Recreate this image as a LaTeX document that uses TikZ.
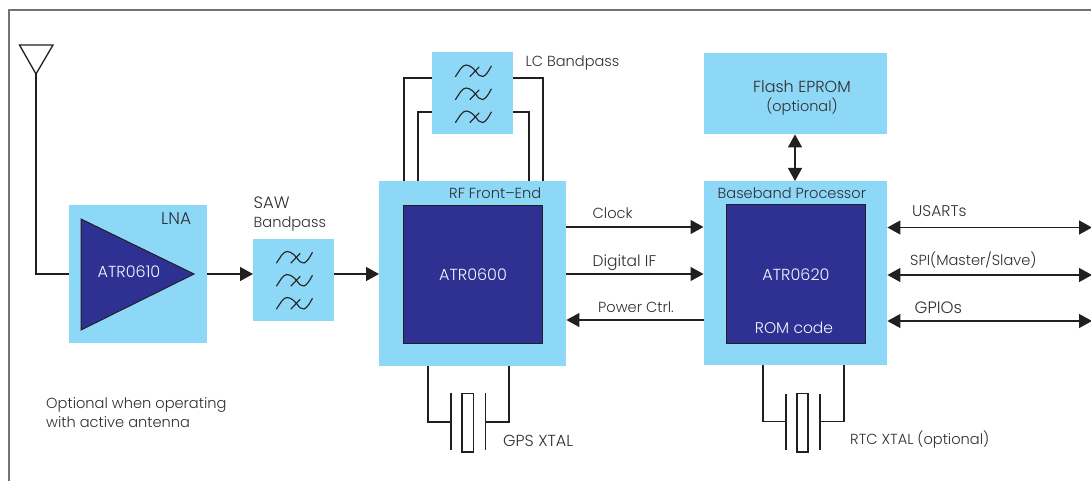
\documentclass[tikz,border=0pt]{standalone}
\usepackage{fontspec}
\setmainfont{Poppins Light}
\usetikzlibrary{arrows.meta}
\definecolor{lb}{HTML}{8DD7F7}
\definecolor{navy}{HTML}{2E3192}
\definecolor{ink}{HTML}{231F20}
\definecolor{tx}{HTML}{2F2F31}
\tikzset{
 x=1pt,y=-1pt,
 bluebox/.style={fill=lb,draw=none},
 chip/.style={fill=navy,draw=ink,line width=1pt},
 wire/.style={draw=ink,line width=1.3pt},
 sig/.style={wire,-{Triangle[length=13pt,width=14pt]}},
 bisig/.style={wire,{Triangle[length=13pt,width=14pt]}-{Triangle[length=13pt,width=14pt]}},
 lbl/.style={font=\fontsize{14.6}{18}\selectfont,text=tx,inner sep=0pt,anchor=base west,align=left},
 wlbl/.style={font=\fontsize{16}{18}\selectfont,text=white!85!lb,inner sep=0pt,anchor=base},
 filt/.pic={\draw[ink,line width=1.1pt,line cap=round] (-17.5,6) .. controls (-14,1) and (-11,-5.5) .. (-7,-5.5) .. controls (-2,-5.5) and (2,0) .. (3,1) .. controls (5,4) and (7,6.5) .. (10,6) .. controls (13,5) and (16,0) .. (18.3,-4.5);
            \draw[ink,line width=1.1pt,line cap=round] (-3,6) -- (6,-3.5);}
}
\begin{document}
\begin{tikzpicture}
\useasboundingbox (0,0) rectangle (1091,481);
% frame
\coordinate (fa) at (9,481); \coordinate (fb) at (9,10); \coordinate (fc) at (1091,10);
\draw[gray!90!black,line width=1.2pt] (fa)--(fb)--(fc);
% boxes
\node[bluebox,minimum width=138pt,minimum height=138pt,inner sep=0,anchor=north west] (lna) at (69,205) {};
\node[bluebox,minimum width=81pt,minimum height=82pt,inner sep=0,anchor=north west] (saw) at (253,239) {};
\node[bluebox,minimum width=187pt,minimum height=185pt,inner sep=0,anchor=north west] (rf) at (379,181) {};
\node[bluebox,minimum width=81pt,minimum height=82pt,inner sep=0,anchor=north west] (lc) at (432,52) {};
\node[bluebox,minimum width=183.5pt,minimum height=184pt,inner sep=0,anchor=north west] (bb) at (703.5,181) {};
\node[bluebox,minimum width=183.5pt,minimum height=81pt,inner sep=0,anchor=north west] (fl) at (703.5,53) {};
\node[chip,minimum width=139pt,minimum height=138pt,inner sep=0,anchor=north west] (c1) at (403,205) {};
\node[chip,minimum width=139pt,minimum height=139pt,inner sep=0,anchor=north west] (c2) at (726,204) {};
\draw[chip] (81,219)--(194,274)--(81,330)--cycle;
% antenna
\coordinate (ant) at (36,74); \coordinate (lnain) at (69,274);
\draw[wire] (19.5,45)--(53,45)--(ant)--cycle;
\draw[wire] (ant)--(ant|-lnain)--(lnain);
% signal
\draw[sig] (207,274)--(saw.west|-0,274);
\draw[sig] (334,274)--(rf.west|-0,274);
\draw[sig] (rf.east|-0,227)--(bb.west|-0,227);
\draw[sig] (rf.east|-0,274)--(bb.west|-0,274);
\draw[sig] (bb.west|-0,320)--(rf.east|-0,320);
\coordinate (e1) at (1092,227.5);\coordinate (e2) at (1092,275);\coordinate (e3) at (1092,321);
\draw[bisig] (bb.east|-e1)--(e1);
\draw[bisig] (bb.east|-e2)--(e2);
\draw[bisig] (bb.east|-e3)--(e3);
\draw[bisig] (fl.south-|795,0)--(bb.north-|795,0);
% lc wires
\draw[wire] (lc.west|-0,78)-|(404,0|-rf.north);
\draw[wire] (lc.west|-0,112)-|(418,0|-rf.north);
\draw[wire] (lc.east|-0,78)-|(543,0|-rf.north);
\draw[wire] (lc.east|-0,112)-|(529,0|-rf.north);
% filters
\foreach \dy in {0,23,46} {
 \pic at (294,257+\dy) {filt};
 \pic at (473,70.5+\dy) {filt};
}
% xtals
\draw[wire] (428,0|-rf.south)--(428,422)--(451,422);
\draw[wire] (509,0|-rf.south)--(509,422)--(485.5,422);
\draw[wire] (451,393)--(451,450);
\draw[wire] (485.5,393)--(485.5,450);
\draw[wire] (462,393.5) rectangle (473.5,452);
\draw[wire] (763,0|-bb.south)--(763,421.7)--(786,421.7);
\draw[wire] (844,0|-bb.south)--(844,421.7)--(820,421.7);
\draw[wire] (786,393.5)--(786,450);
\draw[wire] (820,393.5)--(820,450);
\draw[wire] (797,393.5) rectangle (808,452);
% labels
\node[lbl,font=\fontsize{17}{18}\selectfont] (t1) at (161,224) {LNA};
\node[wlbl] (t2) at (129,277) {ATR0610};
\node[lbl,font=\fontsize{16.5}{18}\selectfont] (t3) at (253.5,208) {SAW};
\node[lbl] (t4) at (253.5,227) {Bandpass};
\node[lbl] (t5) at (525.5,67) {LC Bandpass};
\node[lbl] (t6) at (449,198) {RF Front--End};
\node[wlbl] (t7) at (473,280) {ATR0600};
\node[lbl] (t8) at (592.5,218.5) {Clock};
\node[lbl,font=\fontsize{15.5}{18}\selectfont] (t9) at (592.5,266) {Digital IF};
\node[lbl] (t10) at (598,312) {Power Ctrl.};
\node[lbl] (t11) at (717.5,198) {Baseband Processor};
\node[wlbl] (t12) at (796,280) {ATR0620};
\node[wlbl,font=\fontsize{15.5}{18}\selectfont] (t13) at (794,333) {ROM code};
\node[lbl,font=\fontsize{16}{18}\selectfont,anchor=base] (t14) at (802,93) {Flash EPROM};
\node[lbl,font=\fontsize{14.5}{18}\selectfont,anchor=base] (t14b) at (802,112) {(optional)};
\node[lbl,font=\fontsize{15.5}{18}\selectfont] (t15) at (912,216.5) {USARTs};
\node[lbl] (t16) at (910,265) {SPI(Master/Slave)};
\node[lbl,font=\fontsize{16.5}{18}\selectfont] (t17) at (914.5,313) {GPIOs};
\node[lbl] (t18) at (46,408) {Optional when operating};
\node[lbl] (t19) at (46,427) {with active antenna};
\node[lbl,font=\fontsize{16}{18}\selectfont] (t20) at (503,446) {GPS XTAL};
\node[lbl] (t21) at (850,444) {RTC XTAL (optional)};
\end{tikzpicture}
\end{document}
